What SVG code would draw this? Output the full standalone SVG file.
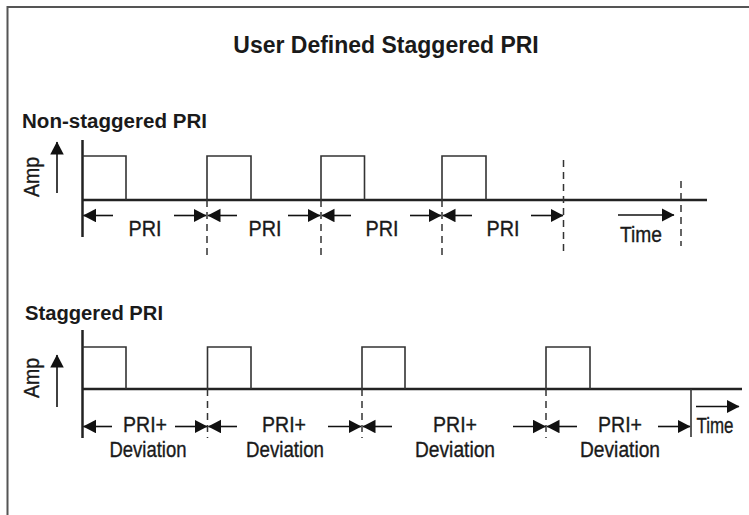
<svg xmlns="http://www.w3.org/2000/svg" width="749" height="515" viewBox="0 0 749 515">
<defs>
<marker id="ah" markerUnits="userSpaceOnUse" markerWidth="14" markerHeight="14" refX="12.5" refY="6.75" orient="auto">
<path d="M0,0 L13,6.75 L0,13.5 Z" fill="#111"/>
</marker>
<style>
.frame{stroke:#555;stroke-width:2;fill:none}
.axis{stroke:#222;stroke-width:2.5;fill:none}
.base{stroke:#222;stroke-width:2.5;fill:none}
.pulse{stroke:#333;stroke-width:1.6;fill:none}
.dash{stroke:#333;stroke-width:1.5;stroke-dasharray:7,5;fill:none}
.solid{stroke:#333;stroke-width:1.6;fill:none}
.arr{stroke:#111;stroke-width:1.6;fill:none;marker-end:url(#ah)}
text{font-family:"Liberation Sans",Arial,sans-serif;fill:#1a1a1a}
.title{font-size:23px;font-weight:bold}
.sec{font-size:20px;font-weight:bold}
.lbl{font-size:22px;text-anchor:middle;stroke:#1a1a1a;stroke-width:0.35}
</style>
</defs>
<rect x="0" y="0" width="749" height="515" fill="#fff"/>
<g id="frame"><path class="frame" d="M7.5,515 V7 H749"/></g>
<g id="title"><text class="title" x="386" y="53" text-anchor="middle">User Defined Staggered PRI</text></g>

<g id="non-staggered">
<text class="sec" x="22" y="128" textLength="185" lengthAdjust="spacingAndGlyphs">Non-staggered PRI</text>
<text class="lbl" transform="translate(39,177) rotate(-90)" x="0" y="0" textLength="40" lengthAdjust="spacingAndGlyphs">Amp</text>
<line class="axis" x1="82.5" y1="140" x2="82.5" y2="237"/>
<line class="base" x1="82" y1="200" x2="707" y2="200"/>
<path class="pulse" d="M82.5,156 H126 V200 M207,200 V156 H251 V200 M321,200 V156 H364.5 V200 M442,200 V156 H486 V200"/>
<line class="dash" x1="207" y1="200" x2="207" y2="256"/>
<line class="dash" x1="321" y1="200" x2="321" y2="256"/>
<line class="dash" x1="442" y1="200" x2="442" y2="256"/>
<line class="dash" x1="563.5" y1="160" x2="563.5" y2="256"/>
<line class="dash" x1="681" y1="181" x2="681" y2="246"/>
<text class="lbl" x="145" y="236" textLength="33" lengthAdjust="spacingAndGlyphs">PRI</text>
<text class="lbl" x="265" y="236" textLength="33" lengthAdjust="spacingAndGlyphs">PRI</text>
<text class="lbl" x="382" y="236" textLength="33" lengthAdjust="spacingAndGlyphs">PRI</text>
<text class="lbl" x="503" y="236" textLength="33" lengthAdjust="spacingAndGlyphs">PRI</text>
<text class="lbl" x="641" y="241.5" textLength="42" lengthAdjust="spacingAndGlyphs">Time</text>
</g>

<g id="staggered">
<text class="sec" x="25" y="320" textLength="138" lengthAdjust="spacingAndGlyphs">Staggered PRI</text>
<text class="lbl" transform="translate(39,378) rotate(-90)" x="0" y="0" textLength="40" lengthAdjust="spacingAndGlyphs">Amp</text>
<line class="axis" x1="82.5" y1="330" x2="82.5" y2="438"/>
<line class="base" x1="82" y1="389" x2="742" y2="389"/>
<path class="pulse" d="M82.5,347 H126 V389 M207.5,389 V347 H251 V389 M362,389 V347 H405 V389 M546,389 V347 H590 V389"/>
<line class="dash" x1="207.5" y1="389" x2="207.5" y2="438"/>
<line class="dash" x1="362" y1="389" x2="362" y2="438"/>
<line class="dash" x1="546" y1="389" x2="546" y2="438"/>
<line class="solid" x1="691" y1="389" x2="691" y2="437"/>
<text class="lbl" x="145" y="431.5" textLength="44" lengthAdjust="spacingAndGlyphs">PRI+</text>
<text class="lbl" x="148" y="456.5" textLength="77" lengthAdjust="spacingAndGlyphs">Deviation</text>
<text class="lbl" x="284" y="431.5" textLength="44" lengthAdjust="spacingAndGlyphs">PRI+</text>
<text class="lbl" x="285" y="456.5" textLength="78" lengthAdjust="spacingAndGlyphs">Deviation</text>
<text class="lbl" x="455" y="431.5" textLength="44" lengthAdjust="spacingAndGlyphs">PRI+</text>
<text class="lbl" x="455" y="456.5" textLength="80" lengthAdjust="spacingAndGlyphs">Deviation</text>
<text class="lbl" x="620" y="431.5" textLength="44" lengthAdjust="spacingAndGlyphs">PRI+</text>
<text class="lbl" x="620" y="456.5" textLength="80" lengthAdjust="spacingAndGlyphs">Deviation</text>
<text class="lbl" x="715" y="433" textLength="37" lengthAdjust="spacingAndGlyphs">Time</text>
</g>

<g id="connectors">
<line class="arr" x1="57" y1="193" x2="57" y2="142"/>
<line class="arr" x1="113" y1="215.5" x2="83.5" y2="215.5"/>
<line class="arr" x1="174" y1="215.5" x2="206" y2="215.5"/>
<line class="arr" x1="237" y1="215.5" x2="208" y2="215.5"/>
<line class="arr" x1="288" y1="215.5" x2="320" y2="215.5"/>
<line class="arr" x1="351" y1="215.5" x2="322" y2="215.5"/>
<line class="arr" x1="410" y1="215.5" x2="441" y2="215.5"/>
<line class="arr" x1="472" y1="215.5" x2="443" y2="215.5"/>
<line class="arr" x1="531" y1="215.5" x2="563" y2="215.5"/>
<line class="arr" x1="618" y1="215" x2="674" y2="215"/>
<line class="arr" x1="57" y1="407" x2="57" y2="355"/>
<line class="arr" x1="112" y1="426.5" x2="83.5" y2="426.5"/>
<line class="arr" x1="175" y1="426.5" x2="207" y2="426.5"/>
<line class="arr" x1="237" y1="426.5" x2="208.5" y2="426.5"/>
<line class="arr" x1="328" y1="426.5" x2="361" y2="426.5"/>
<line class="arr" x1="392" y1="426.5" x2="363" y2="426.5"/>
<line class="arr" x1="513" y1="426.5" x2="545.5" y2="426.5"/>
<line class="arr" x1="577" y1="426.5" x2="547" y2="426.5"/>
<line class="arr" x1="658" y1="426.5" x2="690" y2="426.5"/>
<line class="arr" x1="696" y1="406.5" x2="739" y2="406.5"/>
</g>
</svg>
